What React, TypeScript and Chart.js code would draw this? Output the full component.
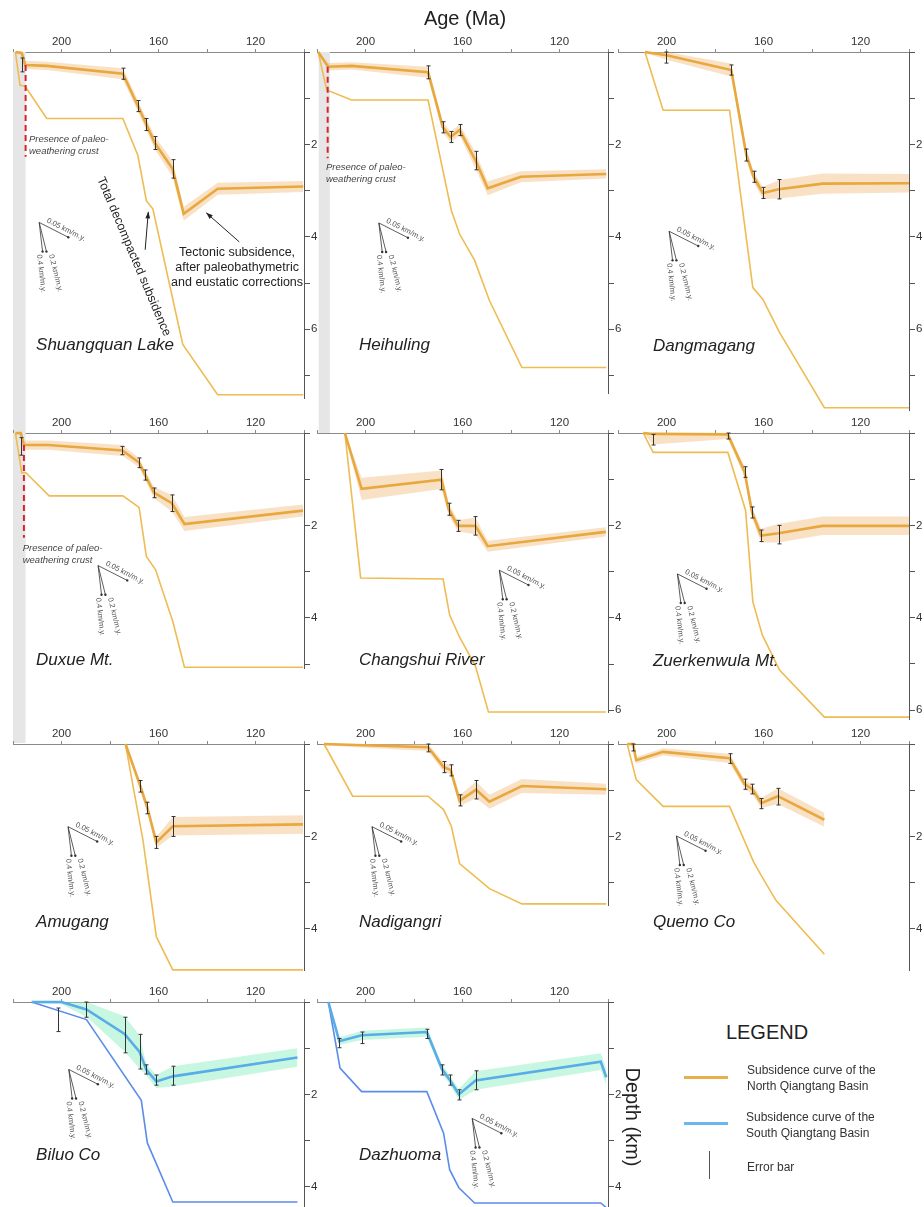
import React, { useEffect, useRef } from 'react';
import { Chart, registerables } from 'chart.js';

Chart.register(...registerables);

const FONT = "'Liberation Sans', Arial, Helvetica, sans-serif";

// ---------- axis definitions ----------
const AGE_OLD = 220;
const AGE_YOUNG = 100;
const X_TICKS = [220, 200, 180, 160, 140, 120, 100];
const X_LABELS = [200, 160, 120];
const Y_LABELS = [2, 4, 6];

// ---------- data: [age Ma, depth km, band half-width] ----------
const SHUANGQUAN_TECT = [[219, 0, 0.02], [216.4, 0.02, 0.05], [215, 0.28, 0.09], [206, 0.3, 0.09], [174.7, 0.47, 0.12], [168.5, 1.17, 0.12], [165, 1.57, 0.13], [161.5, 1.97, 0.14], [154.2, 2.53, 0.17], [149.6, 3.5, 0.15], [135.6, 2.96, 0.13], [100.3, 2.91, 0.12]];
const SHUANGQUAN_TOTAL = [[219, 0], [217.1, 0.72], [215, 0.74], [206.1, 1.44], [174.7, 1.44], [168.5, 2.24], [165, 3.22], [162.3, 3.4], [150, 6.33], [135.6, 7.42], [100.3, 7.42]];
const SHUANGQUAN_ERR = [[216.4, 0.13, 0.43], [174.7, 0.35, 0.59], [168.5, 1.05, 1.29], [165, 1.44, 1.7], [161.5, 1.83, 2.11], [154.2, 2.33, 2.73]];

const HEIHULING_TECT = [[219.5, 0, 0.02], [215.4, 0.32, 0.08], [205.8, 0.3, 0.08], [174.2, 0.44, 0.12], [168.1, 1.63, 0.12], [164.9, 1.84, 0.12], [161.2, 1.69, 0.12], [154.6, 2.35, 0.18], [149.6, 2.95, 0.15], [135.9, 2.7, 0.12], [100.7, 2.64, 0.1]];
const HEIHULING_TOTAL = [[219.5, 0], [216, 0.82], [205.8, 1.04], [174.2, 1.04], [164.6, 3.43], [161.2, 3.94], [155, 4.51], [148.9, 5.38], [135.5, 6.83], [100.7, 6.83]];
const HEIHULING_ERR = [[174.2, 0.3, 0.58], [168.1, 1.51, 1.75], [164.9, 1.72, 1.96], [161.2, 1.57, 1.81], [154.6, 2.15, 2.55]];

const DANGMAGANG_TECT = [[208.9, 0, 0.02], [200, 0.07, 0.1], [173.3, 0.39, 0.14], [167.1, 2.22, 0.12], [164.1, 2.7, 0.12], [160.3, 3.05, 0.13], [153.7, 2.97, 0.2], [135.6, 2.85, 0.22], [100, 2.84, 0.2]];
const DANGMAGANG_TOTAL = [[208.9, 0], [201.4, 1.26], [174, 1.26], [164.4, 5.1], [160.3, 5.35], [153.4, 6.07], [134.9, 7.7], [100, 7.7]];
const DANGMAGANG_ERR = [[200, 0, 0.24], [173.3, 0.28, 0.5], [167.1, 2.1, 2.36], [164.1, 2.58, 2.82], [160.3, 2.93, 3.17], [153.7, 2.76, 3.18]];

const DUXUE_TECT = [[219, 0, 0.02], [216.8, 0, 0.05], [215.5, 0.26, 0.1], [205.5, 0.26, 0.1], [174.9, 0.38, 0.12], [168, 0.64, 0.1], [165.5, 0.91, 0.1], [161.9, 1.29, 0.12], [154.5, 1.52, 0.18], [149.3, 1.97, 0.15], [100.4, 1.68, 0.13]];
const DUXUE_TOTAL = [[219, 0], [216.4, 0.86], [214.7, 0.86], [205.1, 1.36], [174.7, 1.36], [168, 1.61], [165, 2.67], [161.2, 2.96], [154.1, 4.08], [149.3, 5.07], [100.4, 5.07]];
const DUXUE_ERR = [[216.8, 0.1, 0.48], [174.9, 0.29, 0.47], [168, 0.54, 0.75], [165.5, 0.8, 1.02], [161.9, 1.19, 1.4], [154.5, 1.34, 1.7]];

const CHANGSHUI_TECT = [[208.5, 0, 0.05], [201.6, 1.21, 0.24], [168.7, 1.01, 0.2], [165.7, 1.65, 0.13], [161.9, 2.01, 0.12], [154.7, 2.01, 0.18], [149.6, 2.45, 0.12], [100.9, 2.14, 0.1]];
const CHANGSHUI_TOTAL = [[208.5, 0], [202, 3.14], [168, 3.16], [165.3, 3.94], [161.2, 4.42], [154.7, 5.04], [149.3, 6.04], [100.9, 6.04]];
const CHANGSHUI_ERR = [[168.7, 0.79, 1.23], [165.7, 1.52, 1.78], [161.9, 1.89, 2.13], [154.7, 1.81, 2.21]];

const ZUERKEN_TECT = [[209.6, 0, 0], [205.5, 0.02, 0.23], [174.7, 0.03, 0.1], [167.8, 0.84, 0.12], [164.7, 1.72, 0.12], [161, 2.22, 0.15], [153.8, 2.17, 0.2], [135.6, 2.01, 0.2], [100, 2.01, 0.2]];
const ZUERKEN_TOTAL = [[209.6, 0], [205.5, 0.42], [174.7, 0.42], [167.4, 1.67], [164.4, 3.65], [160.5, 4.37], [153.4, 5.13], [134.9, 6.15], [100, 6.15]];
const ZUERKEN_ERR = [[205.5, 0.03, 0.26], [174.7, 0, 0.13], [167.8, 0.73, 0.96], [164.7, 1.6, 1.84], [161, 2.1, 2.35], [153.8, 2.0, 2.4]];

const AMUGANG_TECT = [[173.6, 0, 0.02], [167.5, 0.91, 0.1], [164.6, 1.38, 0.1], [160.9, 2.13, 0.12], [154.1, 1.78, 0.2], [100.4, 1.74, 0.2]];
const AMUGANG_TOTAL = [[173.6, 0], [170.5, 0.91], [166.4, 2.08], [160.9, 4.17], [154.1, 4.89], [100.4, 4.89]];
const AMUGANG_ERR = [[167.5, 0.79, 1.04], [164.6, 1.26, 1.51], [160.9, 2.0, 2.26], [154.1, 1.57, 2.0]];

const NADIGANGRI_TECT = [[217.1, 0, 0.03], [174.2, 0.07, 0.08], [167.8, 0.5, 0.1], [164.9, 0.56, 0.1], [161.2, 1.23, 0.12], [154.4, 0.99, 0.18], [148.9, 1.25, 0.15], [135.5, 0.91, 0.15], [100.7, 0.98, 0.12]];
const NADIGANGRI_TOTAL = [[217.1, 0], [205.3, 1.13], [174.2, 1.13], [167.8, 1.42], [164.6, 1.78], [161.2, 2.59], [148.9, 3.13], [135.5, 3.46], [100.7, 3.46]];
const NADIGANGRI_ERR = [[174.2, 0, 0.17], [167.8, 0.38, 0.62], [164.9, 0.45, 0.69], [161.2, 1.1, 1.34], [154.4, 0.79, 1.19]];

const QUEMO_TECT = [[216.2, 0, 0.02], [213.8, 0, 0.05], [212.5, 0.35, 0.07], [201.4, 0.17, 0.08], [174, 0.31, 0.1], [167.8, 0.87, 0.1], [164.6, 0.98, 0.1], [160.9, 1.28, 0.11], [154.1, 1.13, 0.17], [134.9, 1.64, 0.15]];
const QUEMO_TOTAL = [[216.2, 0], [212.5, 0.77], [201.4, 1.35], [174, 1.35], [164.1, 2.55], [160.9, 2.85], [154.8, 3.39], [134.9, 4.55]];
const QUEMO_ERR = [[214, 0, 0.15], [174, 0.21, 0.42], [167.8, 0.76, 0.98], [164.6, 0.87, 1.08], [160.9, 1.18, 1.4], [154.1, 0.96, 1.32]];

const BILUO_TECT = [[212.3, 0, 0.02], [200, 0, 0.05], [189.7, 0.16, 0.16], [174, 0.69, 0.38], [167.8, 1.08, 0.36], [165, 1.47, 0.12], [160.9, 1.72, 0.14], [154.1, 1.61, 0.22], [102.7, 1.2, 0.2]];
const BILUO_TOTAL = [[212.3, 0], [189.7, 0.38], [167.1, 2.13], [164.6, 3.05], [154.1, 4.33], [102.7, 4.33]];
const BILUO_ERR = [[201.4, 0.13, 0.64], [189.7, 0, 0.33], [174, 0.33, 1.1], [167.8, 0.7, 1.45], [165, 1.36, 1.56], [160.9, 1.58, 1.8], [154.1, 1.39, 1.8]];

const DAZHUOMA_TECT = [[215.3, 0, 0.02], [210.8, 0.85, 0.08], [201.6, 0.72, 0.1], [174.7, 0.65, 0.1], [168.5, 1.45, 0.1], [165.3, 1.68, 0.1], [161.5, 2.0, 0.12], [154.6, 1.7, 0.2], [103, 1.29, 0.18], [100.7, 1.63, 0.18]];
const DAZHUOMA_TOTAL = [[215.3, 0], [210.5, 1.43], [201.6, 1.94], [174.7, 1.94], [167.8, 2.84], [165.3, 3.63], [161.5, 4.02], [155, 4.35], [103, 4.35], [100.7, 4.45]];
const DAZHUOMA_ERR = [[210.8, 0.79, 0.99], [201.6, 0.65, 0.9], [174.7, 0.59, 0.79], [168.5, 1.36, 1.58], [165.3, 1.58, 1.8], [161.5, 1.9, 2.12], [154.6, 1.49, 1.9]];

// ---------- annotation content ----------
const CRUST_TEXT = ['Presence of paleo-', 'weathering crust'];
const NOTE_TOTAL = 'Total decompacted subsidence';
const NOTE_TECT = ['Tectonic subsidence,', 'after paleobathymetric', 'and eustatic corrections'];
const GLYPH_VECTORS = [
  { label: '0.05 km/m.y.', dAge: 12, dDepth: 0.32 },
  { label: '0.2 km/m.y.', dAge: 3, dDepth: 0.63 },
  { label: '0.4 km/m.y.', dAge: 1.4, dDepth: 0.63 },
];

// ---------- style ----------
const THEME = {
  north: { tect: '#E8A83E', total: '#EEBC52', band: 'rgba(242,188,128,0.45)' },
  south: { tect: '#58ACE8', total: '#5B8CEA', band: 'rgba(130,238,188,0.45)' },
};
const PX_PER_KM = 46.2;
const PLOT_W = 291;
const TOP_H = 20;
const RIGHT_W = 20;
const COLS = [13, 317, 618];
const ROWS = [52, 433, 744, 1002];

const PANELS = [
  { name: 'Shuangquan Lake', col: 0, row: 0, max: 7.5, pad: 35, theme: 'north', tect: SHUANGQUAN_TECT, total: SHUANGQUAN_TOTAL, err: SHUANGQUAN_ERR, label: [210.5, 6.34], glyph: [209.2, 3.69], gray: [220, 214.8], red: [214.8, 0.28, 2.27], crust: [213.4, 1.9], notes: true },
  { name: 'Heihuling', col: 1, row: 0, max: 7.4, pad: 40, theme: 'north', tect: HEIHULING_TECT, total: HEIHULING_TOTAL, err: HEIHULING_ERR, label: [202.7, 6.34], glyph: [194.5, 3.7], gray: [219.3, 214.7], red: [215.6, 0.32, 2.3], crust: [216.3, 2.49] },
  { name: 'Dangmagang', col: 2, row: 0, max: 7.75, pad: 10, theme: 'north', tect: DANGMAGANG_TECT, total: DANGMAGANG_TOTAL, err: DANGMAGANG_ERR, label: [205.6, 6.36], glyph: [198.9, 3.88] },
  { name: 'Duxue Mt.', col: 0, row: 1, max: 5.1, pad: 74, theme: 'north', tect: DUXUE_TECT, total: DUXUE_TOTAL, err: DUXUE_ERR, label: [210.5, 4.91], glyph: [184.9, 2.87], gray: [220, 214.8], red: [215.5, 0.26, 2.27], crust: [216, 2.49] },
  { name: 'Changshui River', col: 1, row: 1, max: 6.05, pad: 10, theme: 'north', tect: CHANGSHUI_TECT, total: CHANGSHUI_TOTAL, err: CHANGSHUI_ERR, label: [202.7, 4.91], glyph: [144.8, 2.97] },
  { name: 'Zuerkenwula Mt.', col: 2, row: 1, max: 6.2, pad: 10, theme: 'north', tect: ZUERKEN_TECT, total: ZUERKEN_TOTAL, err: ZUERKEN_ERR, label: [205.6, 4.93], glyph: [195.5, 3.05] },
  { name: 'Amugang', col: 0, row: 2, max: 4.9, pad: 10, theme: 'north', tect: AMUGANG_TECT, total: AMUGANG_TOTAL, err: AMUGANG_ERR, label: [210.5, 3.85], glyph: [197.3, 1.79] },
  { name: 'Nadigangri', col: 1, row: 2, max: 3.5, pad: 45, theme: 'north', tect: NADIGANGRI_TECT, total: NADIGANGRI_TOTAL, err: NADIGANGRI_ERR, label: [202.7, 3.85], glyph: [197.3, 1.79] },
  { name: 'Quemo Co', col: 2, row: 2, max: 4.9, pad: 10, theme: 'north', tect: QUEMO_TECT, total: QUEMO_TOTAL, err: QUEMO_ERR, label: [205.6, 3.85], glyph: [195.9, 1.99] },
  { name: 'Biluo Co', col: 0, row: 3, max: 4.5, pad: 10, theme: 'south', tect: BILUO_TECT, total: BILUO_TOTAL, err: BILUO_ERR, label: [210.5, 3.31], glyph: [197, 1.46] },
  { name: 'Dazhuoma', col: 1, row: 3, max: 4.5, pad: 10, theme: 'south', tect: DAZHUOMA_TECT, total: DAZHUOMA_TOTAL, err: DAZHUOMA_ERR, label: [202.7, 3.31], glyph: [156, 2.52] },
];

function arrow(ctx, x1, y1, x2, y2, head) {
  ctx.beginPath();
  ctx.moveTo(x1, y1);
  ctx.lineTo(x2, y2);
  ctx.stroke();
  const a = Math.atan2(y2 - y1, x2 - x1);
  ctx.beginPath();
  ctx.moveTo(x2, y2);
  ctx.lineTo(x2 - head * Math.cos(a - 0.35), y2 - head * Math.sin(a - 0.35));
  ctx.lineTo(x2 - head * Math.cos(a + 0.35), y2 - head * Math.sin(a + 0.35));
  ctx.closePath();
  ctx.fill();
}

function makePlugin(p) {
  return {
    id: 'annot',
    beforeDatasetsDraw(chart) {
      if (!p.gray) return;
      const { ctx, chartArea } = chart;
      const X = (v) => chart.scales.x.getPixelForValue(v);
      ctx.save();
      ctx.fillStyle = '#e6e6e6';
      const x1 = X(p.gray[0]);
      const x2 = X(p.gray[1]);
      ctx.fillRect(x1, chartArea.top, x2 - x1, chart.height - chartArea.top);
      ctx.restore();
    },
    afterDatasetsDraw(chart) {
      const { ctx } = chart;
      const X = (v) => chart.scales.x.getPixelForValue(v);
      const Y = (v) => chart.scales.y.getPixelForValue(v);
      ctx.save();
      // error bars
      ctx.strokeStyle = '#333';
      ctx.lineWidth = 1;
      p.err.forEach(([a, t, b]) => {
        const x = Math.round(X(a)) + 0.5;
        const y1 = Y(t);
        const y2 = Y(b);
        ctx.beginPath();
        ctx.moveTo(x, y1); ctx.lineTo(x, y2);
        ctx.moveTo(x - 2, y1); ctx.lineTo(x + 2, y1);
        ctx.moveTo(x - 2, y2); ctx.lineTo(x + 2, y2);
        ctx.stroke();
      });
      // red dashed line
      if (p.red) {
        ctx.save();
        ctx.strokeStyle = '#D8232C';
        ctx.lineWidth = 2;
        ctx.setLineDash([6, 4]);
        ctx.beginPath();
        ctx.moveTo(X(p.red[0]), Y(p.red[1]));
        ctx.lineTo(X(p.red[0]), Y(p.red[2]));
        ctx.stroke();
        ctx.restore();
      }
      if (p.crust) {
        ctx.fillStyle = '#444';
        ctx.font = `italic 9.5px ${FONT}`;
        ctx.textAlign = 'left';
        ctx.textBaseline = 'middle';
        CRUST_TEXT.forEach((t, i) => ctx.fillText(t, X(p.crust[0]), Y(p.crust[1]) + i * 12));
      }
      // rate glyph
      {
        const [a0, d0] = p.glyph;
        const ox = X(a0);
        const oy = Y(d0);
        ctx.strokeStyle = '#333';
        ctx.fillStyle = '#333';
        ctx.lineWidth = 0.8;
        GLYPH_VECTORS.forEach((v, i) => {
          const ex = X(a0 - v.dAge);
          const ey = Y(d0 + v.dDepth);
          ctx.beginPath();
          ctx.moveTo(ox, oy);
          ctx.lineTo(ex, ey);
          ctx.stroke();
          ctx.beginPath();
          ctx.arc(ex, ey, 1.2, 0, Math.PI * 2);
          ctx.fill();
          const ang = Math.atan2(ey - oy, ex - ox);
          ctx.save();
          ctx.fillStyle = '#555';
          ctx.font = `7.5px ${FONT}`;
          ctx.textAlign = 'left';
          if (i === 0) {
            ctx.translate(ox + 6 * Math.cos(ang) + 2 * Math.sin(ang), oy + 6 * Math.sin(ang) - 2 * Math.cos(ang));
            ctx.rotate(ang);
            ctx.textBaseline = 'bottom';
            ctx.fillText(v.label, 0, 0);
          } else {
            const dx = i === 1 ? 4.5 : -3.5;
            ctx.translate(ex + dx, ey + 3);
            ctx.rotate(ang);
            ctx.textBaseline = 'middle';
            ctx.fillText(v.label, 0, 0);
          }
          ctx.restore();
        });
      }
      // site name
      ctx.fillStyle = '#222';
      ctx.font = `italic 17px ${FONT}`;
      ctx.textAlign = 'left';
      ctx.textBaseline = 'middle';
      ctx.fillText(p.name, X(p.label[0]), Y(p.label[1]));
      // explanatory notes (first panel)
      if (p.notes) {
        ctx.fillStyle = '#222';
        ctx.strokeStyle = '#222';
        ctx.lineWidth = 1;
        ctx.font = `12.5px ${FONT}`;
        ctx.textAlign = 'center';
        ctx.textBaseline = 'middle';
        NOTE_TECT.forEach((t, i) => ctx.fillText(t, X(127.6), Y(4.35) + i * 15));
        ctx.save();
        ctx.translate(X(170.2), Y(4.43));
        ctx.rotate((67 * Math.PI) / 180);
        ctx.fillText(NOTE_TOTAL, 0, 0);
        ctx.restore();
        arrow(ctx, X(165.5), Y(4.28), X(164.2), Y(3.46), 7);
        arrow(ctx, X(126.7), Y(4.11), X(140.3), Y(3.48), 7);
      }
      ctx.restore();
    },
  };
}

function buildConfig(p, padBottom) {
  const th = THEME[p.theme];
  const pts = (arr) => arr.map((r) => ({ x: r[0], y: r[1] }));
  const bandTop = p.tect.map((r) => ({ x: r[0], y: Math.max(0, r[1] - r[2]) }));
  const bandBot = p.tect.map((r) => ({ x: r[0], y: r[1] + r[2] }));
  const yTicks = [];
  for (let v = 0; v <= p.max + 1e-9; v += 1) yTicks.push({ value: v });
  return {
    type: 'line',
    data: {
      datasets: [
        { data: pts(p.tect), borderColor: th.tect, borderWidth: 2.6, pointRadius: 0, fill: false, clip: false, tension: 0 },
        { data: pts(p.total), borderColor: th.total, borderWidth: 1.6, pointRadius: 0, fill: false, clip: false, tension: 0 },
        { data: bandTop, borderWidth: 0, borderColor: 'transparent', pointRadius: 0, fill: false, clip: false },
        { data: bandBot, borderWidth: 0, borderColor: 'transparent', pointRadius: 0, fill: '-1', backgroundColor: th.band, clip: false },
      ],
    },
    options: {
      animation: false,
      responsive: false,
      devicePixelRatio: 1,
      events: [],
      layout: { padding: { top: 0, left: 0, right: 0, bottom: padBottom } },
      plugins: { legend: { display: false }, tooltip: { enabled: false } },
      scales: {
        x: {
          type: 'linear',
          position: 'top',
          min: AGE_YOUNG,
          max: AGE_OLD,
          reverse: true,
          afterBuildTicks: (s) => { s.ticks = X_TICKS.map((v) => ({ value: v })); },
          afterFit: (s) => { s.height = TOP_H; s.paddingLeft = 0; s.paddingRight = 0; },
          ticks: {
            autoSkip: false,
            maxRotation: 0,
            padding: 0,
            color: '#333',
            font: { family: FONT, size: 11.5 },
            callback: (v) => (X_LABELS.includes(v) ? String(v) : ''),
          },
          grid: { drawOnChartArea: false, drawTicks: true, tickLength: 3, color: '#8a8a8a' },
          border: { display: true, color: '#8a8a8a', width: 1 },
        },
        y: {
          type: 'linear',
          position: 'right',
          min: 0,
          max: p.max,
          reverse: true,
          afterBuildTicks: (s) => { s.ticks = yTicks; },
          afterFit: (s) => { s.width = RIGHT_W; s.paddingTop = 0; s.paddingBottom = 0; },
          ticks: {
            autoSkip: false,
            padding: 1,
            color: '#333',
            font: { family: FONT, size: 11.5 },
            callback: (v) => (Y_LABELS.includes(v) ? String(v) : ''),
          },
          grid: { drawOnChartArea: false, drawTicks: true, tickLength: 6, color: '#555' },
          border: { display: true, color: '#555', width: 1 },
        },
      },
    },
    plugins: [makePlugin(p)],
  };
}

function Panel({ p }) {
  const ref = useRef(null);
  const areaH = p.max * PX_PER_KM;
  const W = PLOT_W + RIGHT_W;
  const H = Math.round(TOP_H + areaH + p.pad);
  const padBottom = H - TOP_H - areaH;
  useEffect(() => {
    const chart = new Chart(ref.current, buildConfig(p, padBottom));
    return () => chart.destroy();
  }, []);
  return (
    <canvas
      ref={ref}
      width={W}
      height={H}
      style={{ position: 'absolute', left: COLS[p.col], top: ROWS[p.row] - TOP_H, width: W, height: H }}
    />
  );
}

const legendText = { position: 'absolute', fontFamily: FONT, fontSize: 12, lineHeight: '16px', color: '#333', whiteSpace: 'nowrap' } as React.CSSProperties;

export default function App() {
  return (
    <div style={{ position: 'absolute', left: 0, top: 0, width: 924, height: 1207, overflow: 'hidden', background: '#fff' }}>
      {PANELS.map((p) => (
        <Panel key={p.name} p={p} />
      ))}
      <div style={{ position: 'absolute', left: 395, top: 6, width: 140, textAlign: 'center', fontFamily: FONT, fontSize: 20, lineHeight: '24px', color: '#222' }}>Age (Ma)</div>
      <div style={{ position: 'absolute', left: 573, top: 1105, width: 120, height: 24, textAlign: 'center', fontFamily: FONT, fontSize: 20, lineHeight: '24px', color: '#222', transform: 'rotate(90deg)' }}>Depth (km)</div>
      <div style={{ position: 'absolute', left: 707, top: 1020, width: 120, textAlign: 'center', fontFamily: FONT, fontSize: 20, lineHeight: '24px', color: '#222' }}>LEGEND</div>
      <div style={{ position: 'absolute', left: 684, top: 1075.5, width: 44, height: 3, background: '#E8B04A' }} />
      <div style={{ ...legendText, left: 747, top: 1062 }}>Subsidence curve of the<br />North Qiangtang Basin</div>
      <div style={{ position: 'absolute', left: 684, top: 1121.5, width: 44, height: 3, background: '#6CB8EE' }} />
      <div style={{ ...legendText, left: 746, top: 1109 }}>Subsidence curve of the<br />South Qiangtang Basin</div>
      <div style={{ position: 'absolute', left: 708.5, top: 1151, width: 1, height: 28, background: '#555' }} />
      <div style={{ ...legendText, left: 747, top: 1159 }}>Error bar</div>
    </div>
  );
}
